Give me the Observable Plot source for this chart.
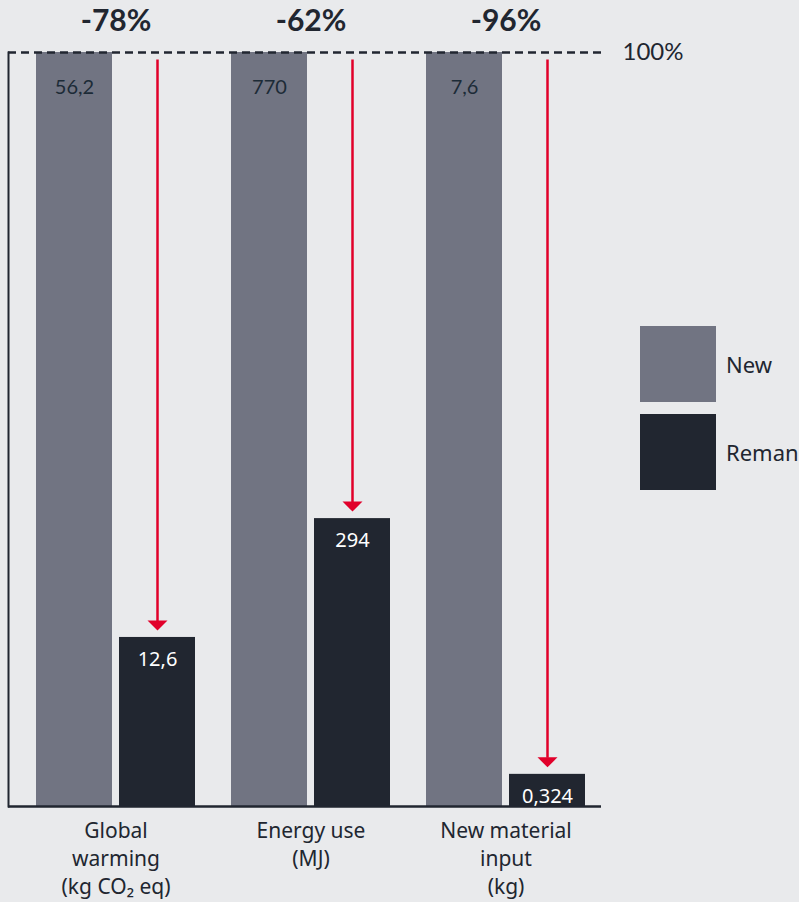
<!DOCTYPE html>
<html><head><meta charset="utf-8">
<script src="https://cdn.jsdelivr.net/npm/d3@7"></script>
<script src="https://cdn.jsdelivr.net/npm/@observablehq/plot@0.6"></script>
<style>
html,body{margin:0;padding:0;background:#e9eaec;overflow:hidden;}
#wrap{position:relative;width:799px;height:902px;overflow:hidden;}
#wrap svg{position:absolute;left:0;top:0;}
#legend{position:absolute;left:640px;top:326px;font-family:"Noto Sans",sans-serif;font-size:22px;color:#212630;white-space:nowrap;}
.item{display:flex;align-items:center;height:76px;margin-bottom:12px;}
.sw{width:76px;height:76px;margin-right:10px;flex:none;}
</style></head>
<body><div id="wrap"><div id="legend"></div></div>
<script>
const categories = ["Global\nwarming\n(kg CO₂ eq)", "Energy use\n(MJ)", "New material\ninput\n(kg)"];
const series = ["New", "Reman"];
const newValues = [56.2, 770, 7.6];
const remanValues = [12.6, 294, 0.324];
const newLabels = ["56,2", "770", "7,6"];
const remanLabels = ["12,6", "294", "0,324"];
const seriesColors = ["#717482", "#212630"];
const red = "#e1002a";
const dark = "#212630";

const newRows = categories.map((c, i) => ({cat: c, pct: 100, label: newLabels[i]}));
const remanRows = categories.map((c, i) => ({
  cat: c,
  pct: remanValues[i] / newValues[i] * 100,
  label: remanLabels[i],
  reduction: "-" + Math.round((1 - remanValues[i] / newValues[i]) * 100) + "%"
}));

const arrowHead = {
  draw(ctx) {
    ctx.moveTo(-10, -10);
    ctx.lineTo(10, -10);
    ctx.lineTo(0, 0);
    ctx.closePath();
  }
};

const half = 41.5;
const chart = Plot.plot({
  width: 799,
  height: 902,
  marginLeft: 8,
  marginRight: 198,
  marginTop: 52,
  marginBottom: 96,
  style: {background: "transparent", color: dark},
  x: {domain: categories, paddingInner: 0.1867, paddingOuter: 0.11, align: 0.628, axis: null},
  y: {domain: [0, 100], axis: null},
  marks: [
    Plot.barY(newRows, {x: "cat", y: "pct", fill: seriesColors[0], insetRight: 83}),
    Plot.barY(remanRows, {x: "cat", y: "pct", fill: seriesColors[1], insetLeft: 83}),
    Plot.frame({anchor: "left", stroke: dark, strokeWidth: 2}),
    Plot.ruleY([0], {stroke: dark, strokeWidth: 2.5}),
    Plot.ruleY([100], {stroke: dark, strokeWidth: 2.5, strokeDasharray: "8,5"}),
    Plot.text(newRows, {x: "cat", y: "pct", text: "label", dx: -half, dy: 35, fill: "#1c2b37", fontSize: 20, fontFamily: "Lato"}),
    Plot.text(remanRows, {x: "cat", y: "pct", text: "label", dx: half, dy: 22, fill: "white", fontSize: 20, fontFamily: "Noto Sans"}),
    Plot.ruleX(remanRows, {x: "cat", y1: () => 99, y2: "pct", dx: half, stroke: red, strokeWidth: 2.5, insetBottom: 16}),
    Plot.dot(remanRows, {x: "cat", y: "pct", dx: half, dy: -7, symbol: arrowHead, fill: red, stroke: "none"}),
    Plot.text(remanRows, {x: "cat", y: () => 100, text: "reduction", dy: -31, fontSize: 30, fontWeight: "bold", fontFamily: "Lato", fill: dark}),
    Plot.text(["100%"], {y: () => 100, frameAnchor: "right", textAnchor: "start", dx: 21, fontSize: 24, fontFamily: "Lato", fill: dark}),
    Plot.text(categories, {x: d => d, text: d => d, frameAnchor: "bottom", lineAnchor: "top", dy: 11, lineHeight: 1.35, fontSize: 21, fontFamily: "Noto Sans", fill: dark})
  ]
});
document.getElementById("wrap").appendChild(chart);

const legend = document.getElementById("legend");
series.forEach((s, i) => {
  const item = document.createElement("div");
  item.className = "item";
  const sw = document.createElement("div");
  sw.className = "sw";
  sw.style.background = seriesColors[i];
  const t = document.createElement("span");
  t.textContent = s;
  item.appendChild(sw);
  item.appendChild(t);
  legend.appendChild(item);
});
</script>
</body></html>
